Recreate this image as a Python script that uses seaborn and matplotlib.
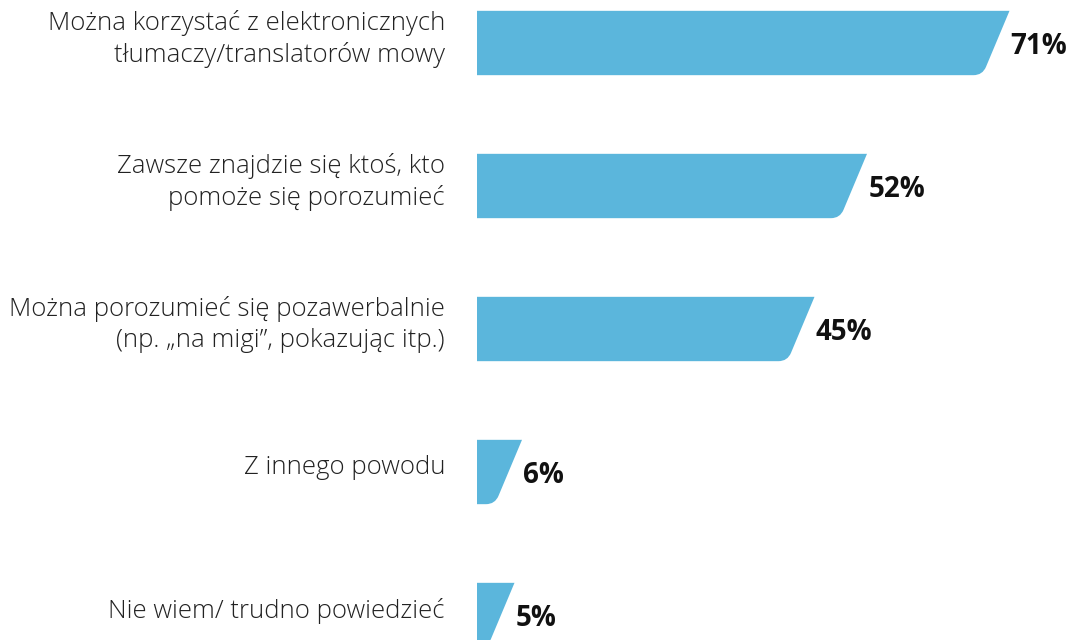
import matplotlib
matplotlib.use("Agg")
import matplotlib.pyplot as plt
from matplotlib.path import Path
from matplotlib.patches import PathPatch
import seaborn as sns
import pandas as pd

categories = [
    "Można korzystać z elektronicznych\ntłumaczy/translatorów mowy",
    "Zawsze znajdzie się ktoś, kto\npomoże się porozumieć",
    "Można porozumieć się pozawerbalnie\n(np. „na migi”, pokazując itp.)",
    "Z innego powodu",
    "Nie wiem/ trudno powiedzieć",
]
values = [71, 52, 45, 6, 5]
labels = ["71%", "52%", "45%", "6%", "5%"]

df = pd.DataFrame({"cat": categories, "val": values})

sns.set_theme(style="white")
plt.rcParams["font.family"] = ["Open Sans", "DejaVu Sans"]

fig = plt.figure(figsize=(10.73, 6.4), dpi=100)
ax = fig.add_axes([477 / 1073, 0, 1 - 477 / 1073, 1])

sns.barplot(data=df, x="val", y="cat", orient="h", color="#5bb6dc",
            saturation=1, width=0.45, ax=ax)

px_x = 7.5     # pixels per x unit
px_y = 143.0   # pixels per y unit
slant = 27 / px_x
rad = 9

# swap the plain rectangles for slanted bars with a rounded lower corner
for p in list(ax.patches):
    x0 = p.get_x()
    w = p.get_width()
    top = p.get_y()
    bot = top + p.get_height()
    xr_top = x0 + w
    xr_bot = xr_top - slant
    edge_len = (27 ** 2 + 64 ** 2) ** 0.5
    fx = xr_bot + slant * rad / edge_len
    fy = bot - (bot - top) * rad / edge_len
    verts = [(x0, top), (xr_top, top), (fx, fy), (xr_bot, bot),
             (xr_bot - rad / px_x, bot), (x0, bot), (x0, top)]
    codes = [Path.MOVETO, Path.LINETO, Path.LINETO, Path.CURVE3,
             Path.CURVE3, Path.LINETO, Path.CLOSEPOLY]
    ax.add_patch(PathPatch(Path(verts, codes), facecolor=p.get_facecolor(),
                           edgecolor="none", clip_on=False))
    p.remove()

for i, (v, lab) in enumerate(zip(values, labels)):
    ax.text(v + 0.15, i + 0.025, lab, ha="left", va="center", fontsize=20,
            fontweight="bold", color="#111111")

# category labels to the left of the bars
for i, cat in enumerate(categories):
    ax.text(-32 / 596, i - 0.03, cat, transform=ax.get_yaxis_transform(),
            ha="right", va="center", fontsize=18.5, fontweight="light",
            color="#222222", linespacing=1.3, multialignment="right")

ax.set_xlim(0, 596 / px_x)
ax.set_ylim(4 + 25 / px_y, -43 / px_y)
ax.set_xlabel("")
ax.set_ylabel("")
ax.set_xticks([])
ax.set_yticks([])
sns.despine(ax=ax, left=True, bottom=True)

fig.savefig("out.png", dpi=100)
